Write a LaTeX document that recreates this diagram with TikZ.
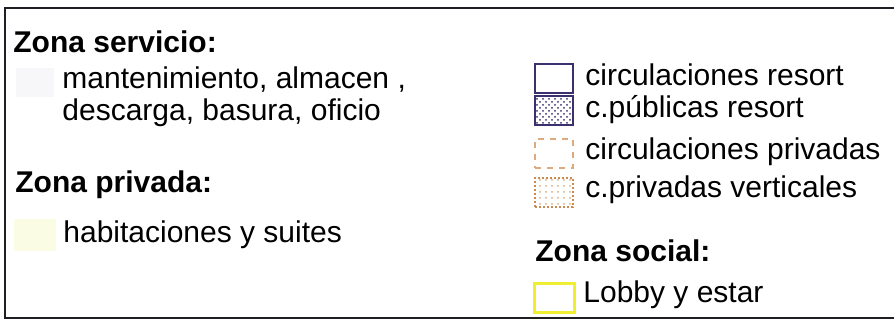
\documentclass[tikz,border=0pt]{standalone}
\usepackage{fontspec}
\setmainfont{Liberation Sans}
\usetikzlibrary{patterns,positioning}
\definecolor{colframe}{HTML}{1E1E24}
\definecolor{colresort}{HTML}{3B2F6E}
\definecolor{colpriv}{HTML}{DDAA80}
\definecolor{colvert}{HTML}{C98A50}
\definecolor{colsocial}{HTML}{F0EE30}
\definecolor{colfaint}{HTML}{F7F7F9}
\definecolor{colhab}{HTML}{FAFCE4}

\begin{document}
\begin{tikzpicture}[x=0.5pt,y=-0.5pt,
    every node/.style={inner sep=0pt,anchor=base west,font=\fontsize{15}{18}\selectfont},
    head/.style={font=\fontsize{15}{18}\selectfont\bfseries},
    swatch/.style={anchor=north west,minimum width=19pt,minimum height=14.5pt,line width=1pt}]
  \useasboundingbox (0,0) rectangle (894,324);
  % frame, open on the right
  \draw[colframe,line width=1.2pt] (894,8) -- (5,8) -- (5,318) -- (894,318);

  % left column
  \node[head] (zserv) at (13,53) {Zona servicio:};
  \node[swatch,fill=colfaint,anchor=north west] (swserv) at (15,67) {};
  \node (mant) at (62,89) {mantenimiento, almacen ,};
  \node (desc) at (62,121) {descarga, basura, oficio};
  \node[head] (zpriv) at (15,193) {Zona privada:};
  \node[swatch,fill=colhab,minimum width=21pt,minimum height=16pt] (swhab) at (13,218) {};
  \node (hab) at (63,243) {habitaciones y suites};

  % right column
  \node[swatch,draw=colresort,fill=white] (swres) at (534,63) {};
  \node[swatch,draw=colresort,pattern=crosshatch dots,pattern color=colresort] (swpub) at (534,95) {};
  \node[swatch,draw=colpriv,dashed] (swcpr) at (534,138) {};
  \node[swatch,draw=colvert,densely dotted,pattern=dots,pattern color=colpriv] (swver) at (534,177) {};
  \foreach \s/\t/\y in {swres/circulaciones resort/86, swpub/c.públicas resort/118,
      swcpr/circulaciones privadas/160, swver/c.privadas verticales/198}
    \node (l\s) at (585,\y) {\t};
  \node[head] (zsoc) at (535,262) {Zona social:};
  \node[swatch,draw=colsocial,line width=1.4pt,minimum width=20pt] (swlob) at (533,282) {};
  \node (lob) at (583,303) {Lobby y estar};
\end{tikzpicture}
\end{document}
